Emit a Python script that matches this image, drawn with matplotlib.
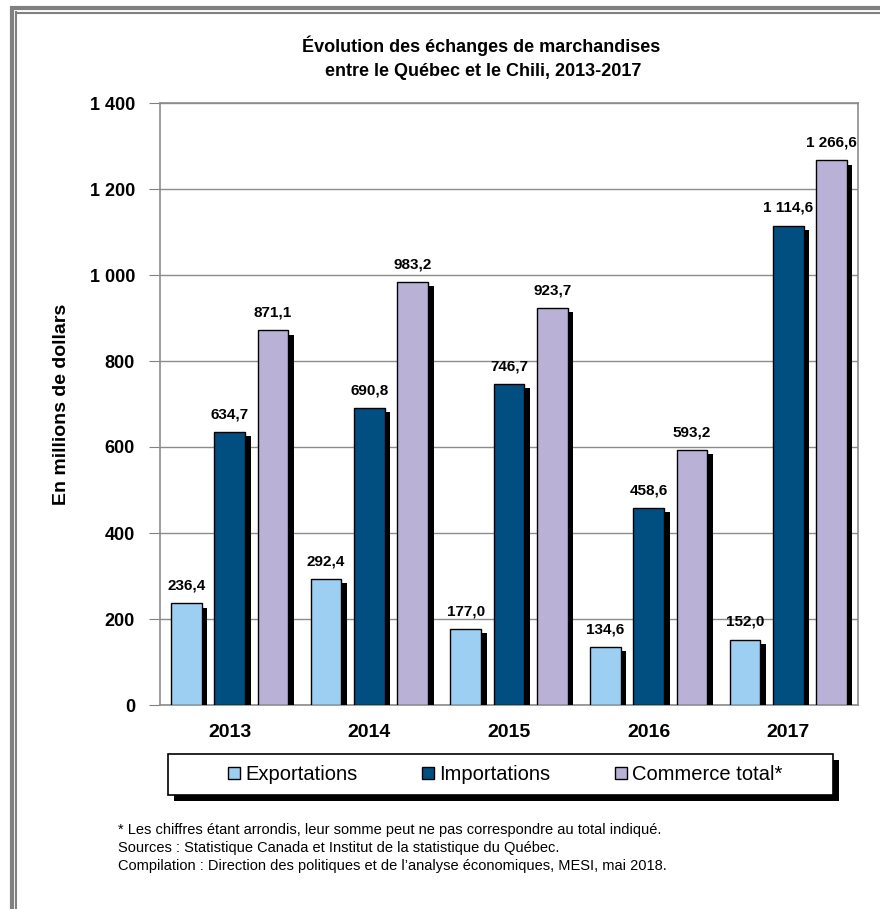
import matplotlib
matplotlib.use("Agg")
from matplotlib import pyplot as plt
from matplotlib import patheffects as pe
from matplotlib.patches import Rectangle
from matplotlib.lines import Line2D
import numpy as np

plt.rcParams['font.family'] = ['Liberation Sans', 'DejaVu Sans']

years = ['2013', '2014', '2015', '2016', '2017']
exports = [236.4, 292.4, 177.0, 134.6, 152.0]
imports = [634.7, 690.8, 746.7, 458.6, 1114.6]
total = [871.1, 983.2, 923.7, 593.2, 1266.6]
series = [('Exportations', exports, '#9dcff2'),
          ('Importations', imports, '#014f81'),
          ('Commerce total*', total, '#b9b2d6')]

def fmt(v):
    s = '%.1f' % v
    ip, dp = s.split('.')
    if len(ip) > 3:
        ip = ip[:-3] + ' ' + ip[-3:]
    return ip + ',' + dp

W, H = 880, 909
fig = plt.figure(figsize=(8.8, 9.09), dpi=100)
ax = fig.add_axes([160 / W, 1 - 705 / H, 698 / W, 602 / H])

# double grey frame, top and left only
grey = '#808080'
fig.add_artist(Line2D([12 / W, 12 / W], [0, 1 - 6 / H], transform=fig.transFigure, color=grey, lw=3, solid_capstyle='butt'))
fig.add_artist(Line2D([10 / W, 1], [1 - 8 / H, 1 - 8 / H], transform=fig.transFigure, color=grey, lw=3, solid_capstyle='butt'))
fig.add_artist(Line2D([16 / W, 16 / W], [0, 1 - 11 / H], transform=fig.transFigure, color=grey, lw=1.5, solid_capstyle='butt'))
fig.add_artist(Line2D([15 / W, 1], [1 - 12.5 / H, 1 - 12.5 / H], transform=fig.transFigure, color=grey, lw=1.5, solid_capstyle='butt'))

x = np.arange(len(years))
w = 0.22
offs = [-0.31, 0.0, 0.31]
shadow = [pe.SimplePatchShadow(offset=(4, -3), shadow_rgbFace='black', alpha=1), pe.Normal()]
handles = []
for (name, vals, col), o in zip(series, offs):
    bars = ax.bar(x + o, vals, w, color=col, edgecolor='black', linewidth=1,
                  label=name, zorder=3)
    for b in bars:
        b.set_path_effects(shadow)
    handles.append(Rectangle((0, 0), 1, 1, facecolor=col, edgecolor='black', linewidth=1))
    for xi, v in zip(x + o, vals):
        ax.text(xi, v + 25, fmt(v), ha='center', va='bottom', fontsize=11,
                fontweight='bold', zorder=4)

ax.set_xlim(-0.5, 4.5)
ax.set_ylim(0, 1400)
ax.set_yticks(range(0, 1401, 200))
ax.set_yticklabels([fmt(t)[:-2] for t in range(0, 1401, 200)], fontsize=13, fontweight='bold')
ax.set_xticks(x)
ax.set_xticklabels(years, fontsize=14, fontweight='bold')
ax.tick_params(axis='x', length=0, pad=14)
ax.tick_params(axis='y', length=8, color=grey, pad=10, direction='out')
ax.yaxis.grid(True, color='#8c8c8c', linewidth=1, zorder=0)
for s in ax.spines.values():
    s.set_color('#8c8c8c')
    s.set_linewidth(1.2)
ax.set_ylabel('En millions de dollars', fontsize=14, fontweight='bold', labelpad=14)

fig.text(481 / W, 1 - 46 / H, 'Évolution des échanges de marchandises', ha='center', va='center',
         fontsize=13, fontweight='bold')
fig.text(483 / W, 1 - 72 / H, 'entre le Québec et le Chili, 2013-2017', ha='center', va='center',
         fontsize=13, fontweight='bold')

# legend box with drop shadow
box = Rectangle((168 / W, 1 - 795 / H), (833 - 168) / W, 41 / H, transform=fig.transFigure,
                facecolor='white', edgecolor='black', linewidth=1.2, zorder=5)
box.set_path_effects([pe.SimplePatchShadow(offset=(4, -4), shadow_rgbFace='black', alpha=1), pe.Normal()])
fig.add_artist(box)
leg = fig.legend(handles=handles, labels=[s[0] for s in series], loc='center',
                 bbox_to_anchor=(505 / W, 1 - 774.5 / H), ncol=3,
                 fontsize=14.5, frameon=False, handlelength=0.6, handleheight=0.6,
                 handletextpad=0.25, columnspacing=3.2)
leg.set_zorder(6)

notes = ["* Les chiffres étant arrondis, leur somme peut ne pas correspondre au total indiqué.",
         "Sources : Statistique Canada et Institut de la statistique du Québec.",
         "Compilation : Direction des politiques et de l’analyse économiques, MESI, mai 2018."]
for i, n in enumerate(notes):
    fig.text(118 / W, 1 - (830 + 18 * i) / H, n, ha='left', va='center', fontsize=10.5)

fig.savefig('out.png', dpi=100)
